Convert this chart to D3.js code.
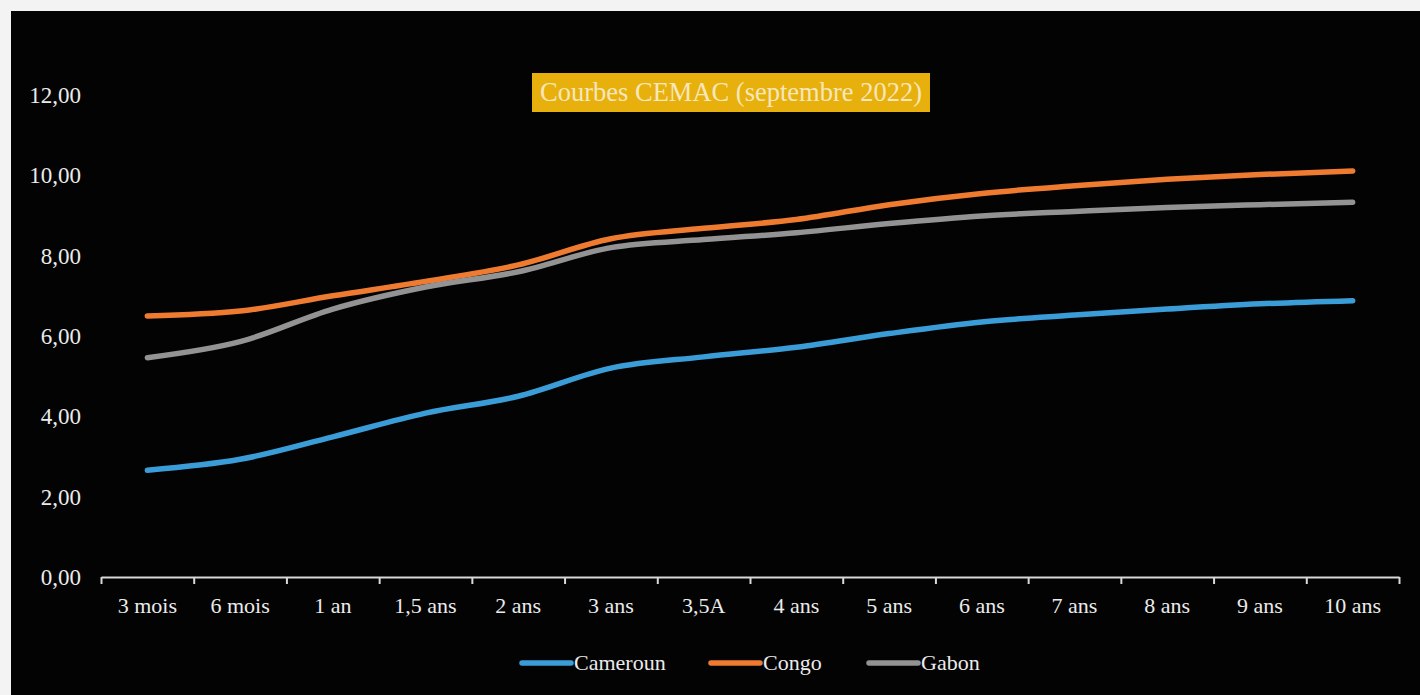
<!DOCTYPE html>
<html>
<head>
<meta charset="utf-8">
<script src="https://cdn.jsdelivr.net/npm/d3@7"></script>
<style>
    html, body { margin: 0; padding: 0; background: #f3f3f3; }
    svg { display: block; }
    text { font-family: "Liberation Serif", "DejaVu Serif", serif; }
</style>
</head>
<body>
<svg id="chart" width="1420" height="695"></svg>
<script>
'use strict';

// data
const categories = ['3 mois', '6 mois', '1 an', '1,5 ans', '2 ans', '3 ans', '3,5A', '4 ans', '5 ans', '6 ans', '7 ans', '8 ans', '9 ans', '10 ans'];
const cameroun = [2.66, 2.93, 3.49, 4.08, 4.50, 5.20, 5.48, 5.72, 6.06, 6.35, 6.52, 6.67, 6.80, 6.88];
const congo = [6.50, 6.62, 7.00, 7.36, 7.77, 8.42, 8.68, 8.90, 9.27, 9.55, 9.74, 9.90, 10.02, 10.11];
const gabon = [5.46, 5.86, 6.67, 7.22, 7.60, 8.20, 8.40, 8.57, 8.80, 8.99, 9.10, 9.20, 9.27, 9.33];
const yTicks = [0, 2, 4, 6, 8, 10, 12];
const title = 'Courbes CEMAC (septembre 2022)';

const series = [
    { name: 'Cameroun', values: cameroun, color: '#3b9dd8' },
    { name: 'Congo', values: congo, color: '#ef7b30' },
    { name: 'Gabon', values: gabon, color: '#939393' }
];

const svg = d3.select('#chart');

// black panel
svg.append('rect')
    .attr('x', 11).attr('y', 11)
    .attr('width', 1409).attr('height', 684)
    .attr('fill', '#030303');

// scales
const x = d3.scaleBand().domain(categories).range([101, 1399]).paddingInner(0).paddingOuter(0);
const xEdge = d3.scaleLinear().domain([0, categories.length]).range([101, 1399]);
const y = d3.scaleLinear().domain([0, 12]).range([577, 95]);

const fmt = v => d3.format('.2f')(v).replace('.', ',');

// y labels (no axis line)
const yAxis = svg.append('g')
    .attr('transform', 'translate(81,0)')
    .call(d3.axisLeft(y).tickValues(yTicks).tickSize(0).tickPadding(0).tickFormat(fmt));
yAxis.select('.domain').remove();
yAxis.selectAll('text')
    .attr('fill', '#ebebeb')
    .style('font-size', '23px')
    .style('font-family', '"Liberation Serif", serif');

// x axis line with ticks between categories
const xTickAxis = svg.append('g')
    .attr('transform', `translate(0,${y(0)})`)
    .call(d3.axisBottom(xEdge).tickValues(d3.range(categories.length + 1)).tickSize(7).tickSizeOuter(0).tickFormat(''));
xTickAxis.select('.domain').attr('stroke', '#d9d9d9').attr('stroke-width', 2);
xTickAxis.selectAll('.tick line').attr('stroke', '#d9d9d9').attr('stroke-width', 2);

// x labels
const xAxis = svg.append('g')
    .attr('transform', `translate(0,${y(0)})`)
    .call(d3.axisBottom(x).tickSize(0).tickPadding(20));
xAxis.select('.domain').remove();
xAxis.selectAll('text')
    .attr('fill', '#ebebeb')
    .style('font-size', '22px')
    .style('font-family', '"Liberation Serif", serif');

// lines
const line = d3.line()
    .x((d, i) => x(categories[i]) + x.bandwidth() / 2)
    .y(d => y(d))
    .curve(d3.curveMonotoneX);

svg.append('g')
    .selectAll('path')
    .data(series)
    .enter()
    .append('path')
    .attr('d', d => line(d.values))
    .attr('fill', 'none')
    .attr('stroke', d => d.color)
    .attr('stroke-width', 5.5)
    .attr('stroke-linecap', 'round')
    .attr('stroke-linejoin', 'round');

// title box
const tg = svg.append('g');
tg.append('rect')
    .attr('x', 532).attr('y', 73)
    .attr('width', 398).attr('height', 39)
    .attr('fill', '#e8b00c');
tg.append('text')
    .attr('x', 731).attr('y', 101)
    .attr('text-anchor', 'middle')
    .attr('fill', '#f6e7bd')
    .style('font-size', '26.5px')
    .text(title);

// legend
const legendX = [522, 711, 869];
const lg = svg.append('g')
    .selectAll('g')
    .data(series)
    .enter()
    .append('g')
    .attr('transform', (d, i) => `translate(${legendX[i]},663)`);
lg.append('line')
    .attr('x1', 0).attr('x2', 49)
    .attr('stroke', d => d.color)
    .attr('stroke-width', 5.5)
    .attr('stroke-linecap', 'round');
lg.append('text')
    .attr('x', 52).attr('y', 7)
    .attr('fill', '#ebebeb')
    .style('font-size', '22px')
    .text(d => d.name);
</script>
</body>
</html>
